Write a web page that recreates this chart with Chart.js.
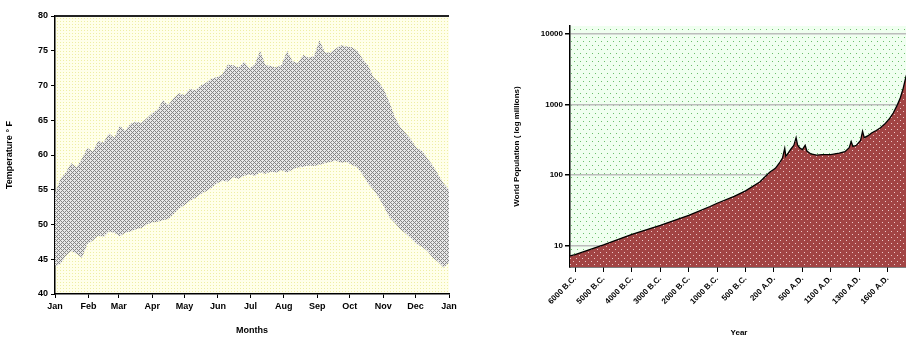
<!DOCTYPE html>
<html lang="en">
<head>
  <meta charset="UTF-8" />
  <title>Daily Temperature Range and World Population</title>
  <script src="https://cdn.jsdelivr.net/npm/chart.js"></script>
  <style>
    * {
      margin: 0;
      padding: 0;
      box-sizing: border-box;
    }
    body {
      width: 906px;
      height: 342px;
      overflow: hidden;
      position: relative;
      background: #fff;
    }
    #tempChart {
      position: absolute;
      left: 0;
      top: 0;
    }
    #popChart {
      position: absolute;
      left: 480px;
      top: 0;
    }
  </style>
</head>
<body>

  <canvas id="tempChart" width="470" height="342"></canvas>
  <canvas id="popChart" width="430" height="342"></canvas>

  <script>
    // left chart: daily high / low temperature band
    const dayOfYear = [0,5,10,15,20,25,30,35,40,45,50,55,60,65,70,75,80,85,90,95,100,105,110,115,120,125,130,135,140,145,150,155,160,165,170,175,180,185,190,195,200,205,210,215,220,225,230,235,240,245,250,255,260,265,270,275,280,285,290,295,300,305,310,315,320,325,330,335,340,345,350,355,360,365];
    const maxTemp = [54.5,56.5,57.5,58.8,58.2,59.5,61,60.5,62,61.8,63.1,62.5,64.2,63.5,64.5,64.8,64.6,65.3,66,66.5,67.9,67.2,68.2,68.9,68.6,69.5,69.3,70,70.4,71,71.2,71.6,73,72.9,72.6,73.4,72.5,73,75,72.9,72.8,72.6,73,75,73.5,73.2,74.4,74,74.2,76.5,74.8,74.7,75.3,75.8,75.6,75.5,75,73.8,72.9,71.2,70.5,69.3,67.5,65.4,64,63.1,62.2,61,60.6,59.5,58.5,57.2,55.9,55];
    const minTemp = [44,44.3,45.5,46.2,45.8,45.2,47.2,47.7,48.4,48.2,49,48.8,48.3,48.8,49,49.3,49.5,50,50.3,50.4,50.6,50.8,51.5,52.3,52.8,53.4,53.8,54.4,54.8,55.3,55.9,56.3,56.2,56.8,56.6,57,57.2,57,57.5,57.3,57.6,57.5,57.8,57.5,57.9,58.2,58.3,58.5,58.4,58.6,58.8,59,59.2,58.9,59,58.6,58.2,57.2,55.9,55,53.9,52.5,51,50.2,49.3,48.7,48,47.2,46.8,46.2,45.2,44.6,43.8,44.5];
    const monthStarts = [0,31,59,90,120,151,181,212,243,273,304,334,365];
    const monthLabels = ["Jan","Feb","Mar","Apr","May","Jun","Jul","Aug","Sep","Oct","Nov","Dec","Jan"];

    // right chart: world population, log scale
    const eraPos = [-0.18,0,1,2,3,4,4.75,5,5.6,6,6.5,6.85,7.05,7.2,7.3,7.38,7.42,7.5,7.6,7.7,7.78,7.83,7.9,8,8.1,8.16,8.3,8.5,8.7,9,9.3,9.5,9.65,9.72,9.78,9.9,10.05,10.12,10.18,10.3,10.45,10.6,10.75,10.9,11.05,11.2,11.35,11.45,11.55,11.65,11.72];
    const popMillions = [7.2,7.5,10.3,14.5,19.5,27,36,40,50,60,80,110,125,150,175,240,185,205,235,265,340,270,245,230,265,220,200,193,195,196,205,215,245,300,255,265,310,420,340,360,400,430,470,530,620,760,1000,1250,1700,2500,3000];
    const eraTickLabels = ["6000 B.C.","5000 B.C.","4000 B.C.","3000 B.C.","2000 B.C.","1000 B.C.","500 B.C.","200 A.D.","500 A.D.","1100 A.D.","1300 A.D.","1600 A.D."];
    const popTicks = [10, 100, 1000, 10000];

    const labelFont = { family: "'Liberation Sans', Arial, sans-serif", size: 9, weight: "bold" };
    const smallFont = { family: "'Liberation Sans', Arial, sans-serif", size: 8, weight: "bold" };

    function makePattern(size, base, dotColor, dots) {
      const c = document.createElement("canvas");
      c.width = size[0];
      c.height = size[1];
      const g = c.getContext("2d");
      g.fillStyle = base;
      g.fillRect(0, 0, size[0], size[1]);
      g.fillStyle = dotColor;
      dots.forEach(d => g.fillRect(d[0], d[1], 1, 1));
      return g.createPattern(c, "repeat");
    }

    const yellowBg = makePattern([3, 3], "#ffffea", "#eeeea4", [[0, 0]]);
    const grayBand = makePattern([4, 4], "#e8e8e8", "#858585", [[0,0],[1,1],[2,2],[3,3],[1,3],[3,1]]);
    const greenBg = makePattern([6, 8], "#f0fff0", "#6cbf6c", [[1, 1], [4, 5]]);
    const redFill = makePattern([6, 6], "#a24444", "#ecc8c8", [[0, 0], [3, 3]]);

    // paints the patterned plot area behind grid and data
    const plotBackground = {
      id: "plotBackground",
      beforeDraw(chart, args, opts) {
        const a = chart.chartArea;
        const ctx = chart.ctx;
        ctx.save();
        ctx.fillStyle = opts.fill;
        ctx.fillRect(a.left, a.top, a.right - a.left, a.bottom - a.top);
        ctx.restore();
      },
      afterDraw(chart, args, opts) {
        if (!opts.topLine) return;
        const a = chart.chartArea;
        const ctx = chart.ctx;
        ctx.save();
        ctx.strokeStyle = "#222";
        ctx.lineWidth = 2;
        ctx.beginPath();
        ctx.moveTo(a.left, a.top);
        ctx.lineTo(a.right, a.top);
        ctx.stroke();
        ctx.restore();
      }
    };

    new Chart(document.getElementById("tempChart").getContext("2d"), {
      type: "line",
      data: {
        datasets: [{
          label: "High",
          data: dayOfYear.map((d, i) => ({ x: d, y: maxTemp[i] })),
          fill: "+1",
          backgroundColor: grayBand,
          borderWidth: 0,
          pointRadius: 0,
          tension: 0
        }, {
          label: "Low",
          data: dayOfYear.map((d, i) => ({ x: d, y: minTemp[i] })),
          fill: false,
          borderWidth: 0,
          pointRadius: 0,
          tension: 0
        }]
      },
      options: {
        responsive: false,
        animation: false,
        layout: { padding: { top: 16, right: 21, left: 2, bottom: 4 } },
        plugins: {
          legend: { display: false },
          tooltip: { enabled: false },
          plotBackground: { fill: yellowBg, topLine: true }
        },
        scales: {
          x: {
            type: "linear",
            min: 0,
            max: 365,
            afterBuildTicks: s => { s.ticks = monthStarts.map(v => ({ value: v })); },
            afterFit: s => { s.height = 44; },
            ticks: {
              autoSkip: false,
              maxRotation: 0,
              padding: 3,
              color: "#000",
              font: labelFont,
              callback: (v, i) => monthLabels[i]
            },
            grid: { drawOnChartArea: false, tickLength: 4, tickColor: "#000" },
            border: { color: "#000", width: 1.5 },
            title: { display: true, text: "Months", color: "#000", font: labelFont, padding: { top: 6, bottom: 2 } }
          },
          y: {
            min: 40,
            max: 80,
            afterFit: s => { s.width = 53; },
            ticks: { stepSize: 5, padding: 3, color: "#000", font: labelFont },
            grid: { drawOnChartArea: false, tickLength: 4, tickColor: "#000" },
            border: { color: "#000", width: 1.5 },
            title: { display: true, text: "Temperature ° F", color: "#000", font: labelFont, padding: 2 }
          }
        }
      },
      plugins: [plotBackground]
    });

    new Chart(document.getElementById("popChart").getContext("2d"), {
      type: "line",
      data: {
        datasets: [{
          label: "World Population",
          data: eraPos.map((p, i) => ({ x: p, y: popMillions[i] })),
          fill: "start",
          backgroundColor: redFill,
          borderColor: "#000",
          borderWidth: 1.3,
          pointRadius: 0,
          tension: 0
        }]
      },
      options: {
        responsive: false,
        animation: false,
        layout: { padding: { top: 26, right: 2, left: 30, bottom: 0 } },
        plugins: {
          legend: { display: false },
          tooltip: { enabled: false },
          plotBackground: { fill: greenBg, topLine: false }
        },
        scales: {
          x: {
            type: "linear",
            min: -0.18,
            max: 11.72,
            afterBuildTicks: s => { s.ticks = eraTickLabels.map((t, i) => ({ value: i })); },
            afterFit: s => { s.height = 75; },
            ticks: {
              autoSkip: false,
              minRotation: 45,
              maxRotation: 45,
              padding: 2,
              color: "#000",
              font: smallFont,
              callback: (v, i) => eraTickLabels[i]
            },
            grid: { drawOnChartArea: false, tickLength: 5, tickColor: "#000" },
            border: { color: "#000", width: 1.5 },
            title: { display: true, text: "Year", color: "#000", font: smallFont, padding: { top: 2, bottom: 4 } }
          },
          y: {
            type: "logarithmic",
            min: 5,
            max: 13000,
            afterBuildTicks: s => { s.ticks = popTicks.map(v => ({ value: v })); },
            afterFit: s => { s.width = 60; },
            ticks: { padding: 2, color: "#000", font: smallFont, callback: v => String(v) },
            grid: { color: "#bcbcbc", lineWidth: 1.5, tickLength: 5, tickColor: "#000" },
            border: { color: "#000", width: 1.5 },
            title: { display: true, text: "World Population ( log millions)", color: "#000", font: smallFont, padding: 2 }
          }
        }
      },
      plugins: [plotBackground]
    });
  </script>
</body>
</html>
